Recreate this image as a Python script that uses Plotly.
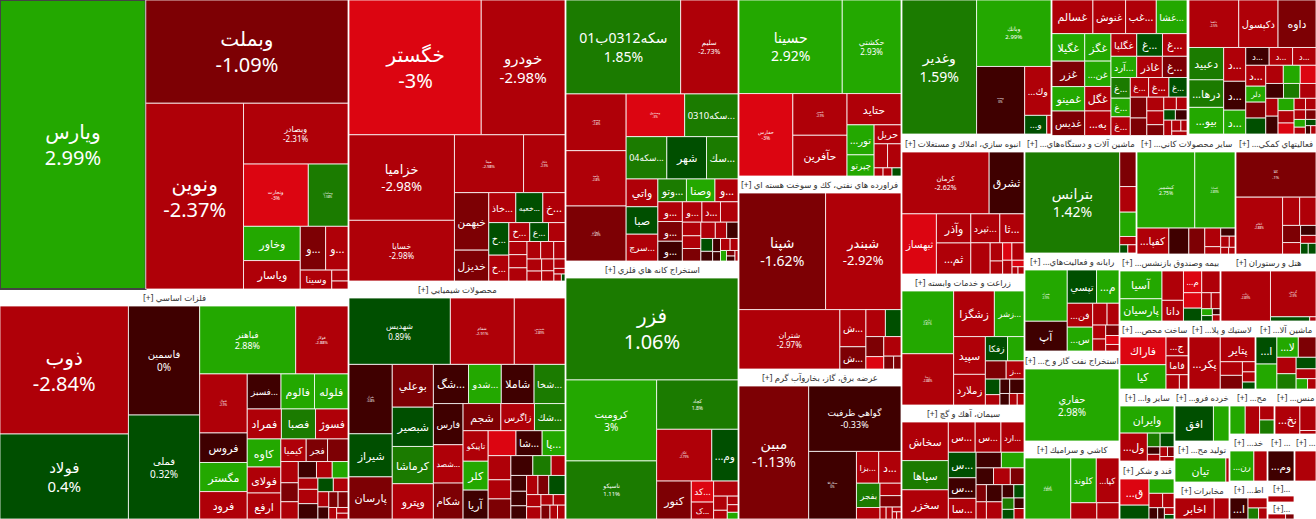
import plotly.graph_objects as go

W, H = 1316, 519

# Every sector: NAMES (labelled cells, largest first), SIZES and CHANGES (all cells),
# FONTS (font size of the cells that also print their change).
BANK_NAMES = ["ویارس", "وبملت", "ونوین", "وبصادر", "ونجارت", "وسامان", "وخاور", "ویاسار", "و...", "و...", "وسینا"]
BANK_SIZES = [41760, 20700, 18000, 6300, 4000, 2450, 1925, 1600, 1100, 970, 590, 176, 128]
BANK_CHANGES = [2.99, -1.09, -2.37, -2.31, -3, 1.58, 2.5, -2.5, -1.5, -2.5, -2.5, -2.5, -2.5]
BANK_FONTS = [20, 20, 20, 8, 5, 3]

METAL_NAMES = ["ذوب", "فولاد", "فاسمین", "فملی", "فباهنر", "فولاژ", "فنوال", "فروس", "مگستر", "فرود", "فسبز...", "فالوم", "فلوله", "فمراد", "فصبا", "فسوژ", "کاوه", "فولای", "ارفع",
               "کیمیا", "فجر"]
METAL_SIZES = [16384, 10880, 7740, 7380, 6500, 3540, 2800, 1400, 1380, 1300, 1180, 1170, 1170, 1020, 1020, 970, 940, 870, 870, 570, 480, 460,
               370, 330, 300, 300, 260, 260, 220, 280, 300, 210, 200, 165, 130, 145, 155, 90, 65, 65]
METAL_CHANGES = [-2.84, 0.4, 0, 0.32, 2.88, -2.88, -2.9, -0.5, 2.5, -2.5, -0.5, 2.5, 2.5, -2.5, 1.5, -2.5, 2.5, -2.5, -2.5, -2.5, -1.5, -1.5,
                 -2.5, -1.5, -2.5, -0.5, -2.5, 2.5, -2.5, -2.5, -0.5, 0.5, -2.5, -2.5, -0.5, -1.5, -1.5, -2.5, -2.5, -2.5]
METAL_FONTS = [20, 15, 10, 10, 9, 4, 3]

AUTO_NAMES = ["خگستر", "خودرو", "خزامیا", "خسایا", "مینا", "خکار", "خبهمن", "خدیزل", "خاذ...", "خعبه...", "خ...", "خ...", "خ...", "خ...", "ع..."]
AUTO_SIZES = [17160, 10870, 8690, 6160, 3850, 2310, 1900, 1020, 780, 780, 640, 630, 500, 380, 340, 300, 230, 230, 230, 230, 220, 190, 170, 140, 140, 120, 100, 60, 50, 24]
AUTO_CHANGES = [-3, -2.98, -2.98, -2.98, -2.98, -2.9, -1.5, -1.5, -2.5, 0.5, -2.5, 0.5, -2.5, -2.5, 0.5, -2.5, -2.5, -2.5, -2.5, -2.5, -2.5, -2.5, -2.5, -2.5, -2.5, -2.5, -2.5, -2.5, -2.5, 0.5]
AUTO_FONTS = [20, 15, 13, 8, 4, 3]

CHEM_NAMES = ["شهدیس", "شفام", "شپدیس", "شراز", "شیراز", "پارسان", "بوعلي", "شبصیر", "کرماشا", "وپترو", "شگ...", "شدو...", "شاملا", "شخا...",
              "فارس", "شصد...", "شکام", "شجم", "زاگرس", "شك...", "تاپیکو", "کلر", "آریا", "", "شا...", "پا..."]
CHEM_SIZES = [6500, 4100, 3250, 2900, 1800, 1760, 1700, 1560, 1480, 1400, 1330, 1240, 1240, 1170, 1180, 1100, 1030, 990, 880, 800, 740, 700, 700, 670, 630, 550,
              530, 420, 440, 420, 350, 265, 240, 220, 200, 210, 200, 300, 170, 170, 125, 120, 120, 100, 100]
CHEM_CHANGES = [0.89, -2.91, -2.89, -0.8, 0.5, -1.5, -1.5, 0.5, 1.5, -2.5, -0.5, 2.5, -0.5, 1.5, -0.5, -2.5, -1.5, -1.5, -2.5, 1.5, -2.5, 2.5, -0.5, -3, -0.5, 2.5,
                -2.5, -2.5, -1.5, -0.5, 1.5, -2.5, -0.5, -0.5, -0.5, -2.5, -1.5, 0.5, -2.5, -2.5, -2.5, -2.5, -1.5, -2.5, -2.5]
CHEM_FONTS = [8, 4, 3, 3]

FUND_NAMES = ["سکه0312ب01", "سلیم", "وسپهر", "وامید", "ایمان", "وصندوق", "سکه0310...", "سکه04...", "شهر", "سك...", "واتي", "صبا", "سرچ...", "وتو...", "وصنا", "و...",
              "و...", "و...", "و...", "و...", "د..."]
FUND_SIZES = [10260, 5130, 3250, 3170, 3150, 2380, 2170, 1640, 1600, 1270, 840, 830, 810, 620, 620, 500, 460, 460, 460, 380, 360, 340,
              240, 224, 220, 224, 176, 176, 144, 108, 99, 70, 110, 90, 60, 45, 40, 30]
FUND_CHANGES = [1.85, -2.73, -2.8, -2.8, -1.49, -3, 1.5, 1.5, 0.5, 1.5, -2.5, 0.5, -2.5, 1.5, 2.5, -2.5, -2.5, -1.5, -0.5, -2.5, -2.5, -2.5,
                -2.5, -2.5, -1.5, -2.5, -2.5, -0.5, 0.5, -0.5, -0.5, -0.5, -2.5, -2.5, 2.5, -1.5, -0.5, -2.5]
FUND_FONTS = [14, 7, 3, 3, 3, 3]

MINE_NAMES = ["فزر", "کرومیت", "ناسیکو", "کچاد", "کگل", "...وم", "کنور", "کد...", "ک..."]
MINE_SIZES = [17200, 7200, 5160, 3940, 2800, 1330, 1290, 460, 370, 360, 190, 117, 90, 80, 70]
MINE_CHANGES = [1.06, 3, 1.11, 1.8, -2.79, 0.5, -1.5, -3, -2.5, -2.5, -2.5, -2.5, -2.5, -2.5, 2.5]
MINE_FONTS = [20, 10, 6, 5, 3]

PHARMA_NAMES = ["حسینا", "حکشتي", "حفارس", "حسیر", "حآفرین", "حتاید", "...تور", "چپرتو", "حریل"]
PHARMA_SIZES = [9280, 5280, 4260, 2170, 2120, 1620, 780, 550, 490, 310, 310, 70, 70, 70]
PHARMA_CHANGES = [2.92, 2.93, -3, -2.9, -2.5, -2.5, 2.5, 2.5, -2.5, -2.5, -2.5, -2.5, -2.5, 0.5]
PHARMA_FONTS = [14, 8, 5, 3]

REFINE_NAMES = ["شپنا", "شبندر", "شتران", "ش...", "ش..."]
REFINE_SIZES = [9600, 8360, 5700, 920, 550, 500, 400, 340, 210, 320, 120, 90]
REFINE_CHANGES = [-1.62, -2.92, -2.97, -2.5, -1.5, -2.5, 0.5, -1.5, -3, -2.5, -1.5, -1.5]
REFINE_FONTS = [14, 13, 8]

POWER_NAMES = ["مبین", "گواهي ظرفیت", "سکارکلا", "بزا...", "د...", "بفجر"]
POWER_SIZES = [8900, 5800, 3100, 680, 680, 550, 260, 250, 230, 70, 70, 40, 30, 30]
POWER_CHANGES = [-1.13, -0.33, 0, -2.5, -2.5, 1.5, -2.5, -2.5, -1.5, -2.5, -2.5, -2.5, -2.5, -2.5]
POWER_FONTS = [14, 9, 3]

INVEST_NAMES = ["وغدیر", "وبانك", "وسپه", "...وك", "...و"]
INVEST_SIZES = [9700, 4800, 3150, 1250, 400, 76]
INVEST_CHANGES = [1.59, 2.99, 0, -2.5, 0.5, -2.5]
INVEST_FONTS = [14, 6, 3]

ESTATE_NAMES = ["کرمان", "ثشرق", "ثبهساز", "وآذر", "...ثم", "ثپرد...", "ثا..."]
ESTATE_SIZES = [5000, 2000, 1920, 930, 990, 780, 650, 560, 210, 150, 150, 195, 120, 72, 40, 40]
ESTATE_CHANGES = [-2.62, -0.5, -3, -2.5, -2.5, -2.5, -2.5, -2.5, -2.5, -2.5, -3, -2.5, -2.5, -3, -2.5, -2.5]
ESTATE_FONTS = [7]

AGRI_NAMES = ["زپارس", "زبینا", "زشگزا", "زشر...", "سپید", "زملارد", "زفکا", "", "", "ز..."]
AGRI_SIZES = [3000, 2450, 1720, 1250, 1110, 900, 500, 370, 350, 300, 210, 140, 130, 190, 100, 84, 72]
AGRI_CHANGES = [2.87, -2.88, -2.5, 2.5, -2.5, -2.5, 0.5, 2.5, -1.5, -2.5, 0.5, -2.5, -0.5, -0.5, -0.5, -2.5, -2.5]
AGRI_FONTS = [3, 3]

CEMENT_NAMES = ["سخاش", "سپاها", "سخزر", "س...", "س...", "ارد...", "س...", "س...", "سا..."]
CEMENT_SIZES = [1720, 1300, 1300, 780, 750, 670, 680, 550, 550, 380, 340, 280, 270, 220, 170, 170, 260, 260, 150, 130, 130, 110, 100, 100]
CEMENT_CHANGES = [-2.5, 1.5, -2.5, -2.5, -2.5, -2.5, 0.5, -0.5, -2.5, -0.5, 2.5, -0.5, -2.5, -1.5, -1.5, -2.5, -0.5, -2.5, -0.5, 0.5, 1.5, 0.5, -0.5, -2.5]
CEMENT_FONTS = []

MACHINE_NAMES = ["بترانس"]
MACHINE_SIZES = [9200, 540, 400, 380, 130, 64, 64]
MACHINE_CHANGES = [1.42, -1.5, -2.5, 2.5, -2.5, 0.5, -2.5]
MACHINE_FONTS = [14]

IT_NAMES = ["همراه", "آپ", "تپسي", "...م", "...فن", "...س"]
IT_SIZES = [2000, 1160, 900, 690, 560, 560, 290, 240, 168, 144, 128, 110, 80]
IT_CHANGES = [2.9, -0.5, 0.5, 2.5, -2.5, 2.5, -2.5, -2.5, -2.5, -2.5, -1.5, -3, -2.5]
IT_FONTS = [3]

OIL_NAMES = ["حفاري"]
OIL_SIZES = [6530]
OIL_CHANGES = [2.98]
OIL_FONTS = [10]

TILE_NAMES = ["کرازی", "کلوند", "...کپا"]
TILE_SIZES = [2640, 1080, 960, 400, 340]
TILE_CHANGES = [2.89, 2.5, -2.5, -2.5, -2.5]
TILE_FONTS = [3]

FOOD_NAMES = ["غسالم", "غنوش", "غب...", "غشا...", "غگیلا", "غزر", "غمینو", "غدیس", "غگز", "...غن", "غگل", "...به", "غگلپا", "غ...", "غ...", "آرد...", "غاذر", "غ...", "غ...", "غ...", "غ...", "غ...", "غ...", "غ..."]
FOOD_SIZES = [1240, 990, 930, 930, 810, 750, 720, 720, 650, 600, 580, 580, 525, 525, 500, 490, 490, 470, 360, 324, 324, 324, 360, 320, 310, 260, 210, 210, 165, 143, 121, 108, 108, 110, 90, 60, 60]
FOOD_CHANGES = [-2.5, -2.5, -2.5, 2.5, 2.5, -1.5, 2.5, -1.5, 2.5, 2.5, -2.5, -2.5, -2.5, 0.5, -2.5, 2.5, -2.5, -1.5, 1.5, 2.5, -2.5, -2.5, -2.5, 0.5, -1.5, -1.5, -2.5, -2.5, -1.5, -2.5, -2.5, 0.5, -0.5, -2.5, -2.5, -2.5, -2.5]
FOOD_FONTS = []

DRUG_NAMES = ["دلقما", "دکپسول", "داوه", "دعبید", "...درها", "...بیو", "د...", "د...", "د...", "د...", "د...", "د...", "د...", "دلر"]
DRUG_SIZES = [2150, 1700, 1640, 1020, 870, 840, 680, 580, 480, 380, 380, 380, 380, 290, 290, 290, 290, 280, 260, 240, 220, 220, 200, 200, 180, 180, 160, 120, 110, 100, 90, 80, 70, 60, 40, 40]
DRUG_CHANGES = [-2.5, -2.5, -1.5, 1.5, 1.5, 2.5, -2.5, -0.5, 2.5, -0.5, -2.5, -2.5, -2.5, 2.5, -1.5, 0.5, -2.5, 2.5, -3, -0.5, 1.5, -2.5, -2.5, -0.5, 2.5, -2.5, -3, -2.5, -2.5, -2.5, -1.5, 2.5, -2.5, 0.5, -0.5, -2.5]
DRUG_FONTS = [3]

MINERAL_NAMES = ["کیشمیر", "کساپا", "...کفپا"]
MINERAL_SIZES = [4150, 2890, 780, 490, 390, 280, 110, 110, 90, 60, 50, 40]
MINERAL_CHANGES = [2.75, 2.89, -2.5, -0.5, -1.5, -2.5, -2.5, -0.5, -2.5, -2.5, -2.5, -2.5]
MINERAL_FONTS = [5, 3]

SERVICE_NAMES = ["کلا", "اتکام"]
SERVICE_SIZES = [3520, 2580, 470, 450, 300, 200, 150, 120, 80, 80]
SERVICE_CHANGES = [-1, -2.88, -2.5, -2.5, -1.5, -2.5, -0.5, -2.5, 0.5, 0.5]
SERVICE_FONTS = [4, 3]

INSURE_NAMES = ["آسیا", "پارسیان", "", "دانا", "...م"]
INSURE_SIZES = [1000, 800, 540, 380, 340, 340, 240, 200, 132, 120, 63, 50, 40, 40]
INSURE_CHANGES = [2.5, 2.5, -2.5, -2.5, -3, -2.5, -3, 0.5, -2.5, -2.5, 2.5, 0.5, -0.5, -2.5]
INSURE_FONTS = []

HOTEL_NAMES = ["رتاپ", "گردش"]
HOTEL_SIZES = [2350, 1980, 156, 25]
HOTEL_CHANGES = [-2.89, -2.9, 0.5, -2.5]
HOTEL_FONTS = [3, 3]

BUILD_NAMES = ["فاراك", "کیا", "...ج", "فاما"]
BUILD_SIZES = [1140, 1000, 370, 370, 170, 110]
BUILD_CHANGES = [-3, 2.5, -2.5, -2.5, -2.5, -2.5]
BUILD_FONTS = []

RUBBER_NAMES = ["...پکر", "پتایر"]
RUBBER_SIZES = [1400, 740, 260, 260, 110, 110, 75]
RUBBER_CHANGES = [-2.5, -2.5, -2.5, -1.5, -2.5, -2.5, 0.5]
RUBBER_FONTS = []

VEHICLE_NAMES = ["...ا", "", "...لا"]
VEHICLE_SIZES = [520, 480, 400, 330, 290, 270, 210, 180, 108, 80]
VEHICLE_CHANGES = [0.5, 2.5, 2.5, -1.5, -2.5, 1.5, 0.5, -2.5, 2.5, -2.5]
VEHICLE_FONTS = []

OTHERW_NAMES = ["وایران", "...ول"]
OTHERW_SIZES = [1400, 730, 168, 182, 90, 80, 70, 60, 60]
OTHERW_CHANGES = [2.5, -2.5, 1.5, 0.5, -0.5, -2.5, -2.5, -1.5, -2.5]
OTHERW_FONTS = []

RETAIL_NAMES = ["افق"]
RETAIL_SIZES = [1260, 510]
RETAIL_CHANGES = [0.5, 2.5]
RETAIL_FONTS = []

MAKE_NAMES = ["تیان"]
MAKE_SIZES = [1080, 66]
MAKE_CHANGES = [2.5, -2.5]
MAKE_FONTS = []

TELECOM_NAMES = ["اخابر"]
TELECOM_SIZES = [800, 300]
TELECOM_CHANGES = [-2.5, -2.5]
TELECOM_FONTS = []

SUGAR_NAMES = ["...ق"]
SUGAR_SIZES = [700, 370, 330, 180, 150, 90, 70, 60, 40]
SUGAR_CHANGES = [-3, 0.5, 2.5, -2.5, -2.5, -0.5, -0.5, -2.5, 0.5]
SUGAR_FONTS = []

MAJ_NAMES = []
MAJ_SIZES = [360, 340, 170, 170]
MAJ_CHANGES = [2.5, -2.5, -2.5, 1.5]
MAJ_FONTS = []

TEX_NAMES = ["...نخ"]
TEX_SIZES = [620, 350, 50]
TEX_CHANGES = [-2.5, -2.5, -2.5]
TEX_FONTS = []

KHAD_NAMES = ["...رن"]
KHAD_SIZES = [620, 340]
KHAD_CHANGES = [2.5, -2.5]
KHAD_FONTS = []

WOM_NAMES = ["...وم"]
WOM_SIZES = [625]
WOM_CHANGES = [-0.5]
WOM_FONTS = []

RIGHT1_NAMES = []
RIGHT1_SIZES = [630]
RIGHT1_CHANGES = [-2.5]
RIGHT1_FONTS = []

MEDIA_NAMES = ["...ا"]
MEDIA_SIZES = [360, 180, 110, 88]
MEDIA_CHANGES = [-0.5, -2.5, 1.5, -2.5]
MEDIA_FONTS = []

SMALL1_NAMES = []
SMALL1_SIZES = [125]
SMALL1_CHANGES = [-2.5]
SMALL1_FONTS = []

SMALL2_NAMES = []
SMALL2_SIZES = [125, 60]
SMALL2_CHANGES = [-2.5, -1.5]
SMALL2_FONTS = []

# title, left, top, right, header bottom, bottom, names, sizes, changes, fonts
SECTORS = [
    (None, 0, 0, 348, 0, 289, BANK_NAMES, BANK_SIZES, BANK_CHANGES, BANK_FONTS),
    ("[+] فلزات اساسي", 0, 289, 348, 306, 519, METAL_NAMES, METAL_SIZES, METAL_CHANGES, METAL_FONTS),
    (None, 349, 0, 565, 0, 281, AUTO_NAMES, AUTO_SIZES, AUTO_CHANGES, AUTO_FONTS),
    ("[+] محصولات شیمیایي", 349, 281, 565, 298, 519, CHEM_NAMES, CHEM_SIZES, CHEM_CHANGES, CHEM_FONTS),
    (None, 566, 0, 738, 0, 261, FUND_NAMES, FUND_SIZES, FUND_CHANGES, FUND_FONTS),
    ("[+] استخراج کانه هاي فلزي", 566, 261, 738, 278, 519, MINE_NAMES, MINE_SIZES, MINE_CHANGES, MINE_FONTS),
    (None, 739, 0, 901, 0, 176, PHARMA_NAMES, PHARMA_SIZES, PHARMA_CHANGES, PHARMA_FONTS),
    ("[+] فراورده هاي نفتي، کك و سوخت هسته اي", 739, 176, 901, 193, 369, REFINE_NAMES, REFINE_SIZES, REFINE_CHANGES, REFINE_FONTS),
    ("[+] عرضه برق، گاز، بخاروآب گرم", 739, 369, 901, 386, 519, POWER_NAMES, POWER_SIZES, POWER_CHANGES, POWER_FONTS),
    (None, 902, 0, 1051, 0, 134, INVEST_NAMES, INVEST_SIZES, INVEST_CHANGES, INVEST_FONTS),
    ("[+] انبوه سازي، املاك و مستغلات", 902, 134, 1024, 152, 274, ESTATE_NAMES, ESTATE_SIZES, ESTATE_CHANGES, ESTATE_FONTS),
    ("[+] زراعت و خدمات وابسته", 902, 274, 1024, 291, 405, AGRI_NAMES, AGRI_SIZES, AGRI_CHANGES, AGRI_FONTS),
    ("[+] سیمان، آهك و گچ", 902, 405, 1024, 422, 519, CEMENT_NAMES, CEMENT_SIZES, CEMENT_CHANGES, CEMENT_FONTS),
    ("[+] ...ماشین آلات و دستگاه‌هاي", 1025, 134, 1136, 152, 253, MACHINE_NAMES, MACHINE_SIZES, MACHINE_CHANGES, MACHINE_FONTS),
    ("[+] ...رایانه و فعالیت‌هاي", 1025, 253, 1119, 270, 351, IT_NAMES, IT_SIZES, IT_CHANGES, IT_FONTS),
    ("[+] ...استخراج نفت گاز و خ", 1025, 351, 1119, 369, 441, OIL_NAMES, OIL_SIZES, OIL_CHANGES, OIL_FONTS),
    ("[+] کاشي و سرامیك", 1025, 441, 1119, 458, 519, TILE_NAMES, TILE_SIZES, TILE_CHANGES, TILE_FONTS),
    (None, 1052, 0, 1187, 0, 135.5, FOOD_NAMES, FOOD_SIZES, FOOD_CHANGES, FOOD_FONTS),
    (None, 1189, 0, 1316, 0, 134, DRUG_NAMES, DRUG_SIZES, DRUG_CHANGES, DRUG_FONTS),
    ("[+] ...ساير محصولات کاني", 1137, 134, 1235, 152, 254, MINERAL_NAMES, MINERAL_SIZES, MINERAL_CHANGES, MINERAL_FONTS),
    ("[+] ...فعالیتهاي کمکي", 1236, 134, 1316, 152, 254, SERVICE_NAMES, SERVICE_SIZES, SERVICE_CHANGES, SERVICE_FONTS),
    ("[+] ...بیمه وصندوق بازنشس", 1120, 254, 1220, 271, 321, INSURE_NAMES, INSURE_SIZES, INSURE_CHANGES, INSURE_FONTS),
    ("[+] هتل و رستوران", 1221, 254, 1316, 271, 321, HOTEL_NAMES, HOTEL_SIZES, HOTEL_CHANGES, HOTEL_FONTS),
    ("[+] ...ساخت محص", 1120, 321, 1188, 337, 389, BUILD_NAMES, BUILD_SIZES, BUILD_CHANGES, BUILD_FONTS),
    ("[+] ...لاستیك و پلا", 1189, 321, 1255, 337, 389, RUBBER_NAMES, RUBBER_SIZES, RUBBER_CHANGES, RUBBER_FONTS),
    ("[+] ...ماشین آلا", 1256, 321, 1316, 337, 389, VEHICLE_NAMES, VEHICLE_SIZES, VEHICLE_CHANGES, VEHICLE_FONTS),
    ("[+] ...ساير وا", 1120, 389, 1174, 406, 461, OTHERW_NAMES, OTHERW_SIZES, OTHERW_CHANGES, OTHERW_FONTS),
    ("[+] ...خرده فرو", 1175, 389, 1229, 406, 441, RETAIL_NAMES, RETAIL_SIZES, RETAIL_CHANGES, RETAIL_FONTS),
    ("[+] ...تولید مح", 1175, 441, 1229, 458, 482, MAKE_NAMES, MAKE_SIZES, MAKE_CHANGES, MAKE_FONTS),
    ("[+] مخابرات", 1175, 482, 1229, 498, 519, TELECOM_NAMES, TELECOM_SIZES, TELECOM_CHANGES, TELECOM_FONTS),
    ("[+] قند و شکر", 1120, 461, 1174, 479, 519, SUGAR_NAMES, SUGAR_SIZES, SUGAR_CHANGES, SUGAR_FONTS),
    ("[+] ...مح", 1230, 389, 1274, 406, 434, MAJ_NAMES, MAJ_SIZES, MAJ_CHANGES, MAJ_FONTS),
    ("[+] ...منس", 1275, 389, 1316, 406, 434, TEX_NAMES, TEX_SIZES, TEX_CHANGES, TEX_FONTS),
    ("[+] ...خد", 1230, 434, 1267, 451, 481, KHAD_NAMES, KHAD_SIZES, KHAD_CHANGES, KHAD_FONTS),
    ("[+] ...", 1268, 434, 1294, 451, 481, WOM_NAMES, WOM_SIZES, WOM_CHANGES, WOM_FONTS),
    ("[+] ...", 1295, 434, 1316, 451, 481, RIGHT1_NAMES, RIGHT1_SIZES, RIGHT1_CHANGES, RIGHT1_FONTS),
    ("[+] ...اط", 1230, 481, 1267, 498, 519, MEDIA_NAMES, MEDIA_SIZES, MEDIA_CHANGES, MEDIA_FONTS),
    ("[+]...", 1268, 481, 1294, 496, 502, SMALL1_NAMES, SMALL1_SIZES, SMALL1_CHANGES, SMALL1_FONTS),
    ("[+]...", 1268, 502, 1294, 514, 519, SMALL2_NAMES, SMALL2_SIZES, SMALL2_CHANGES, SMALL2_FONTS),
]

FONT = "Tahoma, 'Noto Sans', 'DejaVu Sans', sans-serif"
NAME_ONLY_FONT = 11
STEPS = [(-3, "#DC0511"), (-2, "#AF0008"), (-1, "#7D0004"), (0, "#3F0000"),
         (0.999, "#004F00"), (1.999, "#1B7B00"), (99, "#23A800")]


def step_colour(v):
    for top, colour in STEPS:
        if v <= top:
            return colour
    return STEPS[-1][1]


fig = go.Figure()
annotations = []
for title, x0, y0, x1, y_head, y1, names, sizes, changes, fonts in SECTORS:
    texts, fsize = [], []
    for i, (s, c) in enumerate(zip(sizes, changes)):
        name = names[i] if i < len(names) else ""
        if i < len(fonts):
            texts.append(f"{name}<br>{c:g}%")
            fsize.append(fonts[i])
        else:
            texts.append(name)
            fsize.append(NAME_ONLY_FONT)
    fig.add_trace(go.Treemap(
        ids=[f"{x0}-{y0}-{i}" for i in range(len(sizes))],
        labels=[n or " " for n in texts],
        parents=[""] * len(sizes),
        values=sizes,
        text=texts,
        textinfo="text",
        textposition="middle center",
        textfont=dict(family=FONT, color="white", size=fsize),
        sort=False,
        marker=dict(colors=[step_colour(c) for c in changes],
                    line=dict(color="rgba(255,255,255,0.78)", width=1),
                    pad=dict(t=0, l=0, r=0, b=0)),
        tiling=dict(packing="squarify", squarifyratio=1, pad=0),
        pathbar=dict(visible=False),
        hoverinfo="skip",
        domain=dict(x=[x0 / W, x1 / W], y=[1 - y1 / H, 1 - y_head / H]),
    ))
    if title:
        annotations.append(dict(
            x=(x0 + x1) / 2 / W, y=1 - (y0 + y_head) / 2 / H, xref="paper", yref="paper",
            xanchor="center", yanchor="middle",
            text=title, showarrow=False, font=dict(family=FONT, size=8.5, color="#333333"),
        ))

fig.update_layout(width=W, height=H, margin=dict(l=0, r=0, t=0, b=0),
                  paper_bgcolor="white", annotations=annotations, showlegend=False)
fig.write_html("out.html", config=dict(displayModeBar=False),
               post_script="document.body.style.margin='0';document.body.style.overflow='hidden';")
